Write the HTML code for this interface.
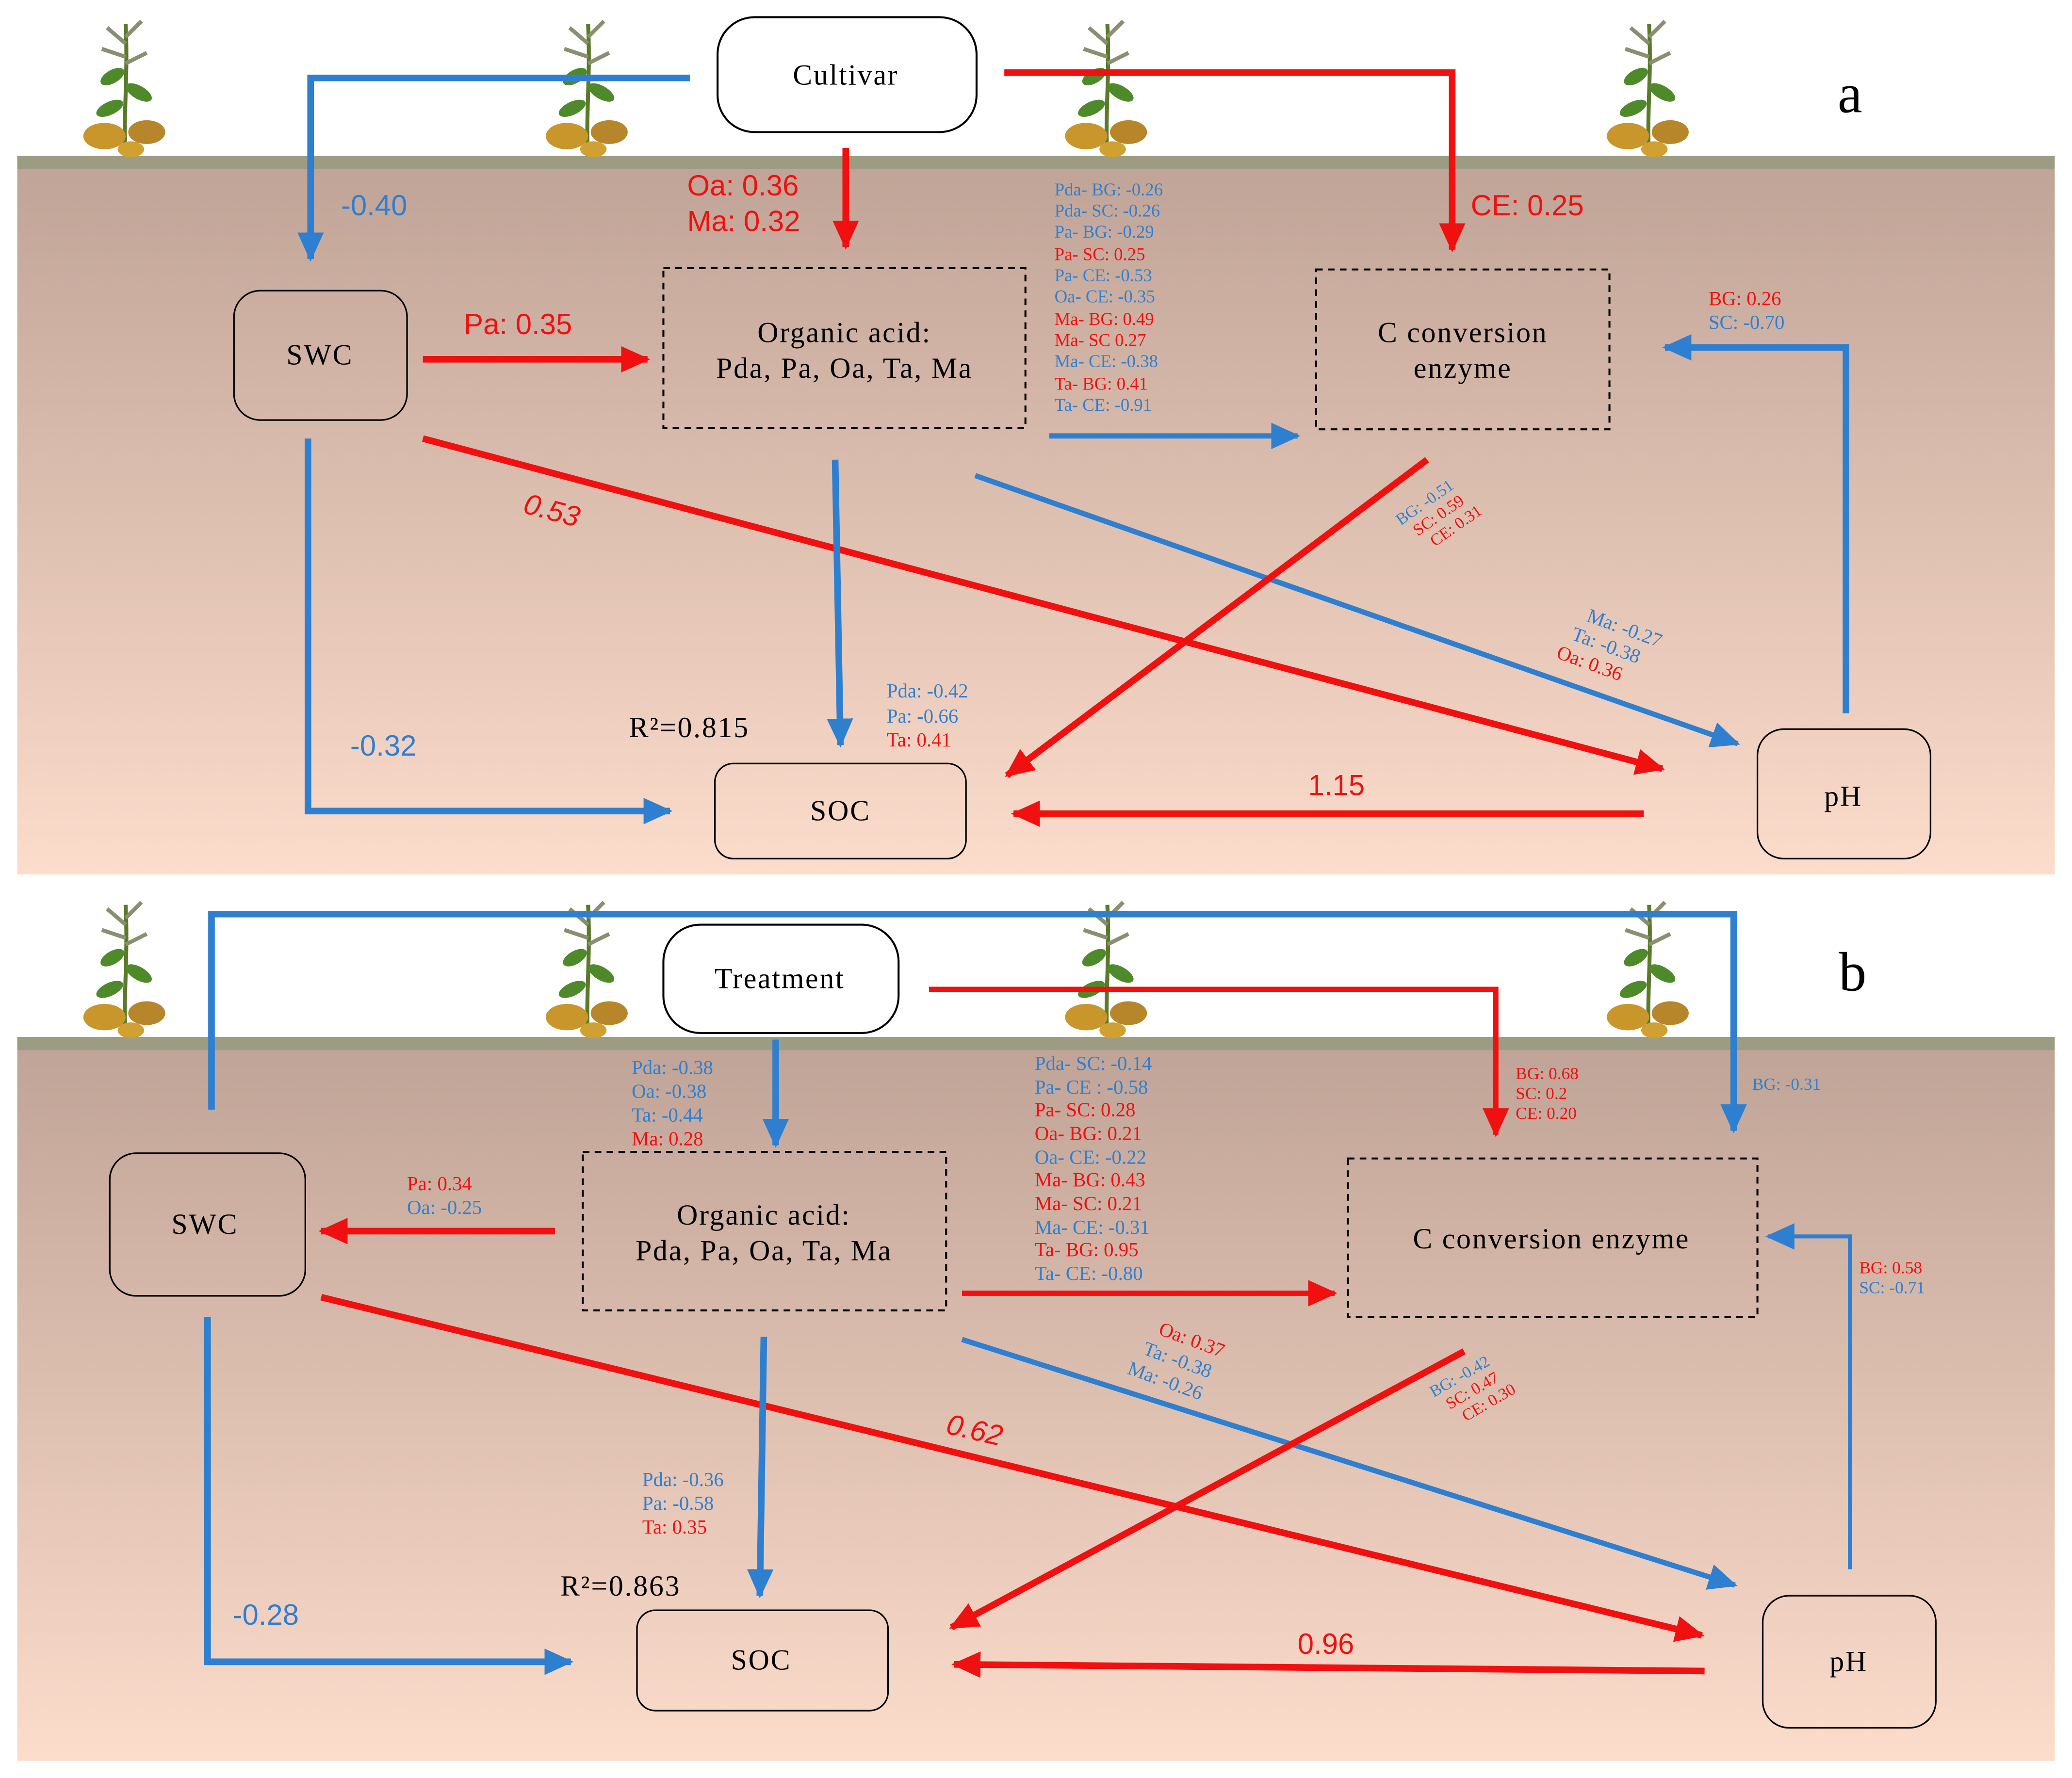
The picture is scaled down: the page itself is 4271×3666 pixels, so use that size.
<!DOCTYPE html>
<html><head><meta charset="utf-8"><style>
html,body{margin:0;padding:0;background:#fff;}
svg{display:block;}
svg text{font-family:"Liberation Serif",serif;}
svg text.n{font-family:"Liberation Sans",sans-serif;}
svg text.b{letter-spacing:1px;}
</style></head><body>
<svg width="4271" height="3666" viewBox="0 0 1568 1346" xmlns="http://www.w3.org/2000/svg">
<defs>
<linearGradient id="g" x1="0" y1="0" x2="0" y2="1">
<stop offset="0" stop-color="#bfa396"/><stop offset="1" stop-color="#fcdccb"/>
</linearGradient>
<marker id="ar" markerUnits="userSpaceOnUse" markerWidth="24" markerHeight="20" refX="20" refY="10" orient="auto"><path d="M0,0 L22,10 L0,20 Z" fill="#f01010"/></marker>
<marker id="ab" markerUnits="userSpaceOnUse" markerWidth="24" markerHeight="20" refX="20" refY="10" orient="auto"><path d="M0,0 L22,10 L0,20 Z" fill="#2f7fd0"/></marker>
<g id="plant">
<path d="M0,100 C-2,70 2,40 0,0" stroke="#5a7a2a" stroke-width="3" fill="none"/>
<path d="M0,15 l-14,-12 M0,10 l12,-12 M0,25 l-18,-6 M0,30 l16,-8" stroke="#889070" stroke-width="3"/>
<ellipse cx="-10" cy="40" rx="10" ry="5" fill="#4f8a2a" transform="rotate(-30 -10 40)"/>
<ellipse cx="10" cy="52" rx="11" ry="5" fill="#4f8a2a" transform="rotate(30 10 52)"/>
<ellipse cx="-12" cy="64" rx="11" ry="5" fill="#4f8a2a" transform="rotate(-25 -12 64)"/>
<ellipse cx="-16" cy="85" rx="16" ry="10" fill="#c8962a"/>
<ellipse cx="16" cy="82" rx="14" ry="9" fill="#b8862a"/>
<ellipse cx="4" cy="95" rx="10" ry="6" fill="#d0a030"/>
</g>
</defs>

<rect x="13" y="118" width="1542" height="544" fill="url(#g)"/>
<rect x="13" y="118" width="1542" height="10" fill="#9c9c82"/>
<use href="#plant" x="95" y="18"/><use href="#plant" x="445" y="18"/><use href="#plant" x="838" y="18"/><use href="#plant" x="1248" y="18"/>

<rect x="13" y="785" width="1542" height="548" fill="url(#g)"/>
<rect x="13" y="785" width="1542" height="10" fill="#9c9c82"/>
<use href="#plant" x="95" y="685"/><use href="#plant" x="445" y="685"/><use href="#plant" x="838" y="685"/><use href="#plant" x="1248" y="685"/>

<!-- ===== PANEL A ===== -->
<text x="1400" y="85" font-size="42" text-anchor="middle">a</text>
<rect x="543" y="13" width="196" height="87" rx="28" fill="#fff" stroke="#000" stroke-width="1.5"/>
<text class="b" x="640" y="64" font-size="22" text-anchor="middle">Cultivar</text>

<polyline points="522,59 235,59 235,196" fill="none" stroke="#2f7fd0" stroke-width="5" marker-end="url(#ab)"/>
<text class="n" x="258" y="163" font-size="22" fill="#2f7fd0">-0.40</text>
<line x1="640" y1="112" x2="640" y2="187" stroke="#f01010" stroke-width="5" marker-end="url(#ar)"/>
<text class="n" x="520" y="148" font-size="22" fill="#f01010">Oa: 0.36</text>
<text class="n" x="520" y="175" font-size="22" fill="#f01010">Ma: 0.32</text>
<polyline points="760,55 1099,55 1099,189" fill="none" stroke="#f01010" stroke-width="5" marker-end="url(#ar)"/>
<text class="n" x="1113" y="163" font-size="22" fill="#f01010">CE: 0.25</text>

<rect x="177" y="220" width="131" height="98" rx="20" fill="none" stroke="#000" stroke-width="1.2"/>
<text class="b" x="242" y="276" font-size="22" text-anchor="middle">SWC</text>
<rect x="502" y="203" width="274" height="121" fill="none" stroke="#000" stroke-width="1.5" stroke-dasharray="5,4"/>
<text class="b" x="639" y="259" font-size="22" text-anchor="middle">Organic acid:</text>
<text class="b" x="639" y="286" font-size="22" text-anchor="middle">Pda, Pa, Oa, Ta, Ma</text>
<line x1="320" y1="272" x2="490" y2="272" stroke="#f01010" stroke-width="5" marker-end="url(#ar)"/>
<text class="n" x="351" y="253" font-size="22" fill="#f01010">Pa: 0.35</text>

<rect x="996" y="204" width="222" height="121" fill="none" stroke="#000" stroke-width="1.5" stroke-dasharray="5,4"/>
<text class="b" x="1107" y="259" font-size="22" text-anchor="middle">C conversion</text>
<text class="b" x="1107" y="286" font-size="22" text-anchor="middle">enzyme</text>

<g font-size="13.5">
<text x="798" y="148" fill="#2f7fd0">Pda- BG: -0.26</text>
<text x="798" y="164" fill="#2f7fd0">Pda- SC: -0.26</text>
<text x="798" y="180" fill="#2f7fd0">Pa- BG: -0.29</text>
<text x="798" y="197" fill="#f01010">Pa- SC: 0.25</text>
<text x="798" y="213" fill="#2f7fd0">Pa- CE: -0.53</text>
<text x="798" y="229" fill="#2f7fd0">Oa- CE: -0.35</text>
<text x="798" y="246" fill="#f01010">Ma- BG: 0.49</text>
<text x="798" y="262" fill="#f01010">Ma- SC 0.27</text>
<text x="798" y="278" fill="#2f7fd0">Ma- CE: -0.38</text>
<text x="798" y="295" fill="#f01010">Ta- BG: 0.41</text>
<text x="798" y="311" fill="#2f7fd0">Ta- CE: -0.91</text>
</g>
<line x1="794" y1="330" x2="982" y2="330" stroke="#2f7fd0" stroke-width="4" marker-end="url(#ab)"/>

<rect x="1330" y="552" width="131" height="98" rx="20" fill="none" stroke="#000" stroke-width="1.2"/>
<text class="b" x="1395" y="610" font-size="22" text-anchor="middle">pH</text>
<polyline points="1397,540 1397,263 1260,263" fill="none" stroke="#2f7fd0" stroke-width="5" marker-end="url(#ab)"/>
<text x="1293" y="231" font-size="15" fill="#f01010">BG: 0.26</text>
<text x="1293" y="249" font-size="15" fill="#2f7fd0">SC: -0.70</text>

<polyline points="233,332 233,614 507,614" fill="none" stroke="#2f7fd0" stroke-width="5" marker-end="url(#ab)"/>
<text class="n" x="265" y="572" font-size="22" fill="#2f7fd0">-0.32</text>
<line x1="320" y1="332" x2="1258" y2="582" stroke="#f01010" stroke-width="5" marker-end="url(#ar)"/>
<text class="n" x="395" y="388" font-size="22" fill="#f01010" font-style="italic" transform="rotate(15 395 388)">0.53</text>
<line x1="632" y1="348" x2="636" y2="564" stroke="#2f7fd0" stroke-width="5" marker-end="url(#ab)"/>
<line x1="738" y1="360" x2="1315" y2="563" stroke="#2f7fd0" stroke-width="4" marker-end="url(#ab)"/>
<g font-size="15" transform="rotate(20 1200 470)">
<text x="1200" y="470" fill="#2f7fd0">Ma: -0.27</text>
<text x="1194" y="487" fill="#2f7fd0">Ta: -0.38</text>
<text x="1188" y="504" fill="#f01010">Oa: 0.36</text>
</g>
<line x1="1080" y1="348" x2="762" y2="587" stroke="#f01010" stroke-width="5" marker-end="url(#ar)"/>
<g font-size="12.5" transform="rotate(-35 1060 398)">
<text x="1060" y="398" fill="#2f7fd0">BG: -0.51</text>
<text x="1066" y="412" fill="#f01010">SC: 0.59</text>
<text x="1072" y="426" fill="#f01010">CE: 0.31</text>
</g>
<line x1="1244" y1="616" x2="767" y2="616" stroke="#f01010" stroke-width="5" marker-end="url(#ar)"/>
<text class="n" x="990" y="602" font-size="22" fill="#f01010">1.15</text>
<rect x="541" y="578" width="190" height="72" rx="14" fill="none" stroke="#000" stroke-width="1.2"/>
<text class="b" x="636" y="621" font-size="22" text-anchor="middle">SOC</text>
<text class="b" x="476" y="558" font-size="22">R²=0.815</text>
<text x="671" y="528" font-size="15" fill="#2f7fd0">Pda: -0.42</text>
<text x="671" y="547" font-size="15" fill="#2f7fd0">Pa: -0.66</text>
<text x="671" y="565" font-size="15" fill="#f01010">Ta: 0.41</text>

<!-- ===== PANEL B ===== -->
<text x="1402" y="750" font-size="42" text-anchor="middle">b</text>
<polyline points="160,840 160,692 1312,692 1312,856" fill="none" stroke="#2f7fd0" stroke-width="5" marker-end="url(#ab)"/>
<text x="1326" y="825" font-size="13" fill="#2f7fd0">BG: -0.31</text>
<rect x="502" y="700" width="178" height="82" rx="28" fill="#fff" stroke="#000" stroke-width="1.5"/>
<text class="b" x="590" y="748" font-size="22" text-anchor="middle">Treatment</text>
<polyline points="703,749 1132,749 1132,859" fill="none" stroke="#f01010" stroke-width="4" marker-end="url(#ar)"/>
<text x="1147" y="817" font-size="13" fill="#f01010">BG: 0.68</text>
<text x="1147" y="832" font-size="13" fill="#f01010">SC: 0.2</text>
<text x="1147" y="847" font-size="13" fill="#f01010">CE: 0.20</text>
<line x1="587" y1="787" x2="587" y2="867" stroke="#2f7fd0" stroke-width="5" marker-end="url(#ab)"/>
<text x="478" y="813" font-size="15" fill="#2f7fd0">Pda: -0.38</text>
<text x="478" y="831" font-size="15" fill="#2f7fd0">Oa: -0.38</text>
<text x="478" y="849" font-size="15" fill="#2f7fd0">Ta: -0.44</text>
<text x="478" y="867" font-size="15" fill="#f01010">Ma: 0.28</text>

<rect x="83" y="873" width="148" height="108" rx="20" fill="none" stroke="#000" stroke-width="1.2"/>
<text class="b" x="155" y="934" font-size="22" text-anchor="middle">SWC</text>
<rect x="441" y="872" width="275" height="120" fill="none" stroke="#000" stroke-width="1.5" stroke-dasharray="5,4"/>
<text class="b" x="578" y="927" font-size="22" text-anchor="middle">Organic acid:</text>
<text class="b" x="578" y="954" font-size="22" text-anchor="middle">Pda, Pa, Oa, Ta, Ma</text>
<line x1="420" y1="932" x2="243" y2="932" stroke="#f01010" stroke-width="5" marker-end="url(#ar)"/>
<text x="308" y="901" font-size="15" fill="#f01010">Pa: 0.34</text>
<text x="308" y="919" font-size="15" fill="#2f7fd0">Oa: -0.25</text>

<g font-size="15">
<text x="783" y="810" fill="#2f7fd0">Pda- SC: -0.14</text>
<text x="783" y="828" fill="#2f7fd0">Pa- CE : -0.58</text>
<text x="783" y="845" fill="#f01010">Pa- SC: 0.28</text>
<text x="783" y="863" fill="#f01010">Oa- BG: 0.21</text>
<text x="783" y="881" fill="#2f7fd0">Oa- CE: -0.22</text>
<text x="783" y="898" fill="#f01010">Ma- BG: 0.43</text>
<text x="783" y="916" fill="#f01010">Ma- SC: 0.21</text>
<text x="783" y="934" fill="#2f7fd0">Ma- CE: -0.31</text>
<text x="783" y="951" fill="#f01010">Ta- BG: 0.95</text>
<text x="783" y="969" fill="#2f7fd0">Ta- CE: -0.80</text>
</g>
<line x1="728" y1="979" x2="1010" y2="979" stroke="#f01010" stroke-width="4" marker-end="url(#ar)"/>
<rect x="1020" y="877" width="310" height="120" fill="none" stroke="#000" stroke-width="1.5" stroke-dasharray="5,4"/>
<text class="b" x="1174" y="945" font-size="22" text-anchor="middle">C conversion enzyme</text>

<polyline points="1400,1188 1400,936 1338,936" fill="none" stroke="#2f7fd0" stroke-width="3" marker-end="url(#ab)"/>
<text x="1407" y="964" font-size="13" fill="#f01010">BG: 0.58</text>
<text x="1407" y="979" font-size="13" fill="#2f7fd0">SC: -0.71</text>
<rect x="1334" y="1208" width="131" height="100" rx="20" fill="none" stroke="#000" stroke-width="1.2"/>
<text class="b" x="1399" y="1265" font-size="22" text-anchor="middle">pH</text>

<polyline points="157,997 157,1258 432,1258" fill="none" stroke="#2f7fd0" stroke-width="5" marker-end="url(#ab)"/>
<text class="n" x="176" y="1230" font-size="22" fill="#2f7fd0">-0.28</text>
<line x1="243" y1="982" x2="1288" y2="1238" stroke="#f01010" stroke-width="5" marker-end="url(#ar)"/>
<text class="n" x="715" y="1085" font-size="22" fill="#f01010" font-style="italic" transform="rotate(13 715 1085)">0.62</text>
<line x1="578" y1="1012" x2="575" y2="1208" stroke="#2f7fd0" stroke-width="5" marker-end="url(#ab)"/>
<text x="486" y="1125" font-size="15" fill="#2f7fd0">Pda: -0.36</text>
<text x="486" y="1143" font-size="15" fill="#2f7fd0">Pa: -0.58</text>
<text x="486" y="1161" font-size="15" fill="#f01010">Ta: 0.35</text>
<line x1="728" y1="1014" x2="1313" y2="1200" stroke="#2f7fd0" stroke-width="4" marker-end="url(#ab)"/>
<g font-size="15" transform="rotate(20 876 1010)">
<text x="876" y="1010" fill="#f01010">Oa: 0.37</text>
<text x="870" y="1028" fill="#2f7fd0">Ta: -0.38</text>
<text x="864" y="1046" fill="#2f7fd0">Ma: -0.26</text>
</g>
<line x1="1108" y1="1023" x2="720" y2="1232" stroke="#f01010" stroke-width="5" marker-end="url(#ar)"/>
<g font-size="12.5" transform="rotate(-30 1085 1058)">
<text x="1085" y="1058" fill="#2f7fd0">BG: -0.42</text>
<text x="1091" y="1072" fill="#f01010">SC: 0.47</text>
<text x="1097" y="1086" fill="#f01010">CE: 0.30</text>
</g>
<line x1="1290" y1="1265" x2="722" y2="1260" stroke="#f01010" stroke-width="5" marker-end="url(#ar)"/>
<text class="n" x="982" y="1252" font-size="22" fill="#f01010">0.96</text>
<rect x="482" y="1219" width="190" height="76" rx="14" fill="none" stroke="#000" stroke-width="1.2"/>
<text class="b" x="576" y="1264" font-size="22" text-anchor="middle">SOC</text>
<text class="b" x="424" y="1208" font-size="22">R²=0.863</text>
</svg>
</body></html>
